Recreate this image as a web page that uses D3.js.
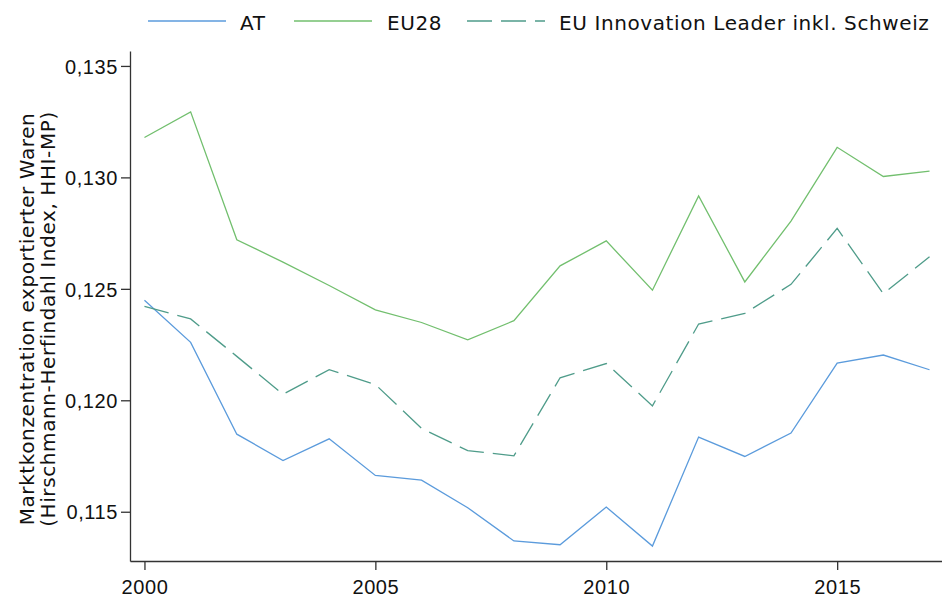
<!DOCTYPE html>
<html>
<head>
<meta charset="utf-8">
<script src="https://cdn.jsdelivr.net/npm/d3@7"></script>
<style>
  body { margin: 0; background: #fff; }
  svg { display: block; font-family: 'DejaVu Sans', sans-serif; }
  .axis path, .axis line { stroke: #333; stroke-width: 1.3px; }
  .axis text { fill: #111; font-size: 20px; letter-spacing: 0.6px; }
  .series { fill: none; stroke-width: 1.3px; }
  .label { fill: #111; font-size: 20px; letter-spacing: 0.6px; }
</style>
</head>
<body>
<div id="chart"></div>
<script>
// values
const years = [2000, 2001, 2002, 2003, 2004, 2005, 2006, 2007, 2008,
               2009, 2010, 2011, 2012, 2013, 2014, 2015, 2016, 2017];
const atValues = [0.12449, 0.12260, 0.11848, 0.11730, 0.11827, 0.11663, 0.11642, 0.11518, 0.11369,
                  0.11352, 0.11521, 0.11346, 0.11835, 0.11748, 0.11853, 0.12167, 0.12203, 0.12137];
const eu28Values = [0.13179, 0.13294, 0.12720, 0.12620, 0.12515, 0.12406, 0.12349, 0.12271, 0.12357,
                    0.12603, 0.12715, 0.12494, 0.12917, 0.12531, 0.12804, 0.13135, 0.13004, 0.13028];
const leaderValues = [0.12421, 0.12365, 0.12197, 0.12027, 0.12137, 0.12071, 0.11874, 0.11774, 0.11751,
                      0.12101, 0.12165, 0.11975, 0.12342, 0.12390, 0.12520, 0.12771, 0.12478, 0.12644];
const seriesNames = ['AT', 'EU28', 'EU Innovation Leader inkl. Schweiz'];
const yTicks = [0.115, 0.120, 0.125, 0.130, 0.135];
const xTicks = [2000, 2005, 2010, 2015];

const width = 942, height = 601;
const margin = { top: 51, right: 0, bottom: 40, left: 130 };

const series = [
  { name: seriesNames[0], values: atValues, color: '#5b9bdc', dash: null },
  { name: seriesNames[1], values: eu28Values, color: '#72bf6e', dash: null },
  { name: seriesNames[2], values: leaderValues, color: '#4f9c8a', dash: '25,9' }
];

const svg = d3.select('#chart').append('svg')
  .attr('width', width)
  .attr('height', height);

const x = d3.scaleLinear()
  .domain([1999.687, 2017.27])
  .range([margin.left, width - margin.right]);

const y = d3.scaleLinear()
  .domain([0.11279, 0.13567])
  .range([height - margin.bottom, margin.top]);

const fmt = d => d3.format('.3f')(d).replace('.', ',');

// y axis
svg.append('g')
  .attr('class', 'axis')
  .attr('transform', `translate(${margin.left},0)`)
  .call(d3.axisLeft(y).tickValues(yTicks).tickFormat(fmt).tickSize(9).tickPadding(3).tickSizeOuter(0))
  .selectAll('text').attr('dy', '0.36em');

// x axis
svg.append('g')
  .attr('class', 'axis')
  .attr('transform', `translate(0,${height - margin.bottom})`)
  .call(d3.axisBottom(x).tickValues(xTicks).tickFormat(d3.format('d')).tickSize(9).tickPadding(10).tickSizeOuter(0));

// y label
const yLabel = svg.append('text')
  .attr('class', 'label')
  .attr('transform', 'translate(34,319) rotate(-90)')
  .attr('text-anchor', 'middle');
yLabel.append('tspan').attr('x', 0).attr('dy', 0).text('Marktkonzentration exportierter Waren');
yLabel.append('tspan').attr('x', 0).attr('dy', '1.05em').text('(Hirschmann-Herfindahl Index, HHI-MP)');

// lines
const line = d3.line()
  .x((d, i) => x(years[i]))
  .y(d => y(d));

svg.selectAll('.series')
  .data(series)
  .enter().append('path')
  .attr('class', 'series')
  .attr('stroke', d => d.color)
  .attr('stroke-dasharray', d => d.dash)
  .attr('d', d => line(d.values));

// legend
const legendItems = [
  { s: series[0], x0: 148, tx: 240 },
  { s: series[1], x0: 294, tx: 387 },
  { s: series[2], x0: 467, tx: 559 }
];
const legend = svg.append('g').attr('class', 'legend');
legendItems.forEach(it => {
  legend.append('line')
    .attr('x1', it.x0).attr('x2', it.x0 + 78)
    .attr('y1', 21).attr('y2', 21)
    .attr('stroke', it.s.color)
    .attr('stroke-width', 1.3)
    .attr('stroke-dasharray', it.s.dash);
  legend.append('text')
    .attr('class', 'label')
    .attr('x', it.tx).attr('y', 29.5)
    .text(it.s.name);
});
</script>
</body>
</html>
